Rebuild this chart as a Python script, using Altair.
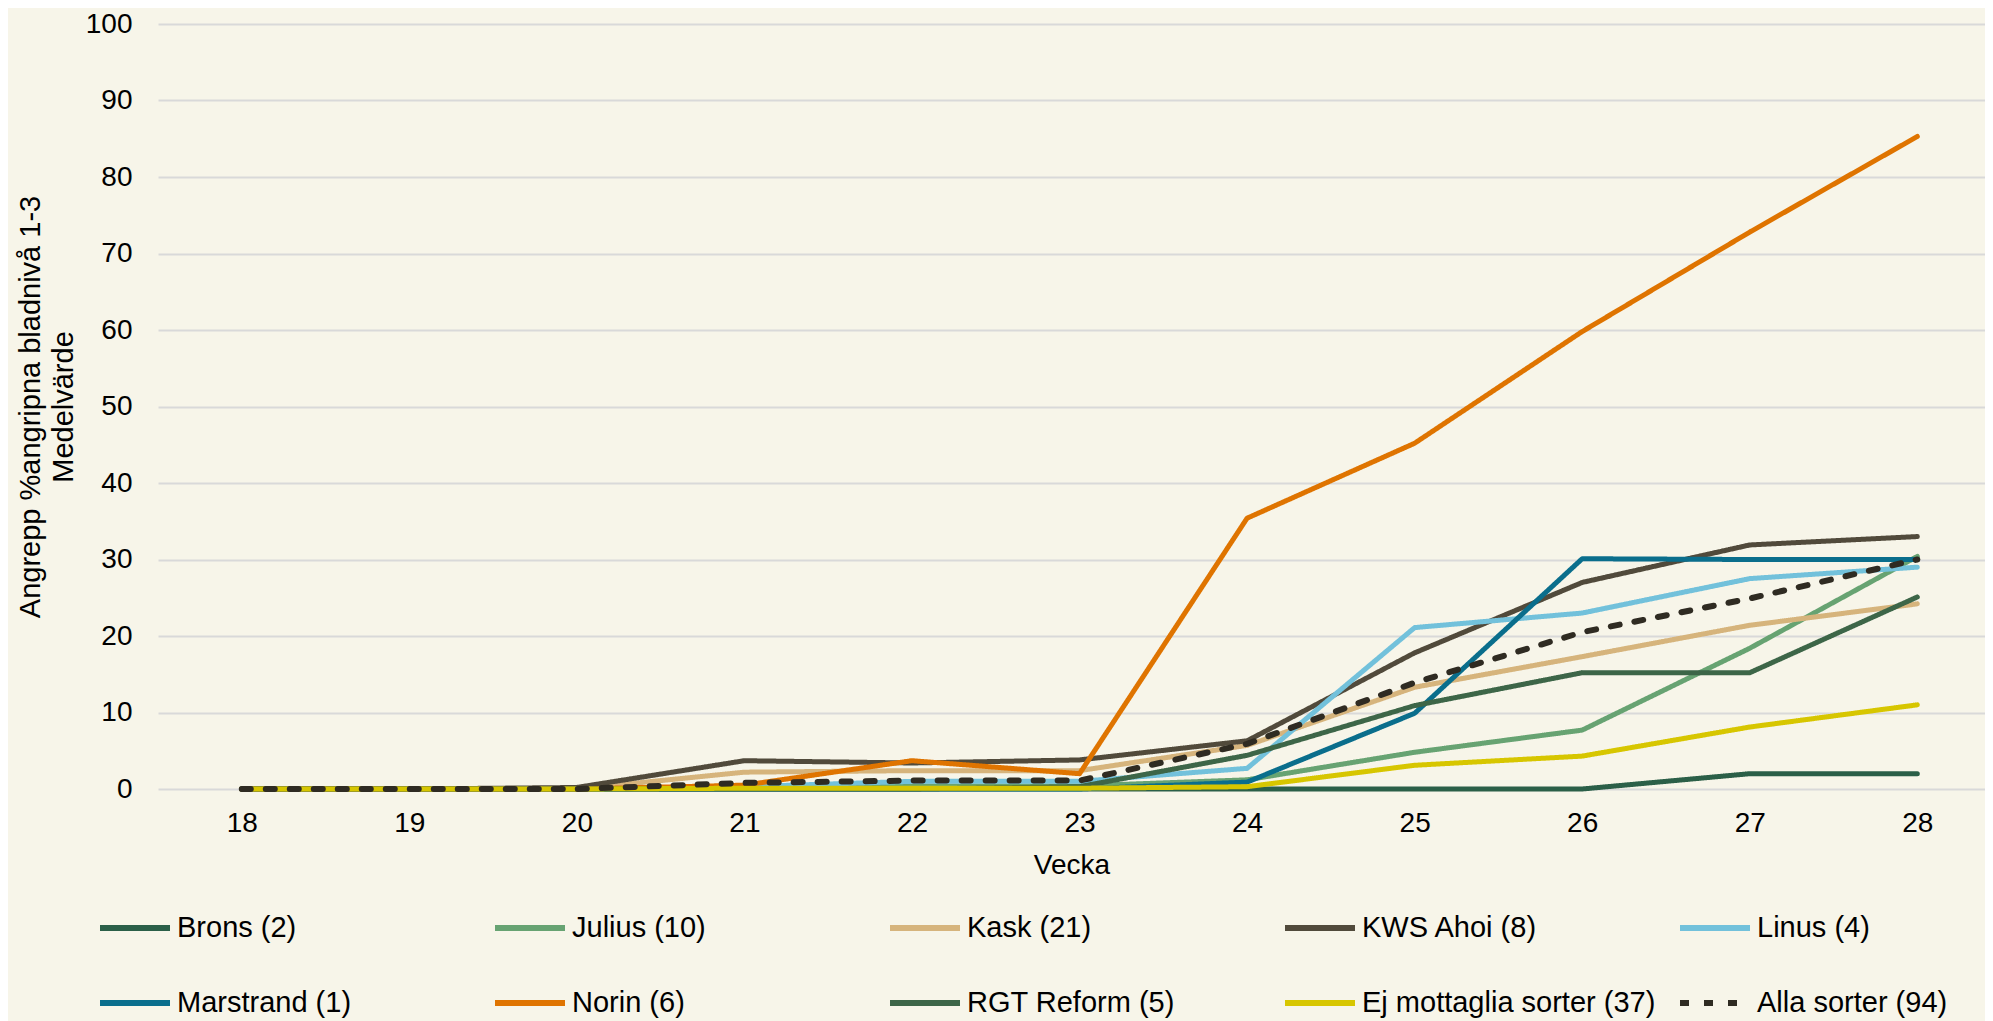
import altair as alt
import pandas as pd

weeks = [18, 19, 20, 21, 22, 23, 24, 25, 26, 27, 28]

sorts = [
    "Brons (2)", "Julius (10)", "Kask (21)", "KWS Ahoi (8)", "Linus (4)",
    "Marstrand (1)", "Norin (6)", "RGT Reform (5)", "Ej mottaglia sorter (37)",
    "Alla sorter (94)",
]

brons = [0, 0, 0, 0, 0, 0, 0, 0, 0, 2.0, 2.0]
julius = [0, 0, 0, 0.3, 0.4, 0.4, 1.2, 4.8, 7.7, 18.4, 30.4]
kask = [0, 0, 0, 2.2, 2.4, 2.4, 5.7, 13.3, 17.3, 21.4, 24.2]
kws_ahoi = [0, 0, 0.2, 3.7, 3.4, 3.8, 6.3, 17.8, 27.0, 31.9, 33.0]
linus = [0, 0, 0, 0.3, 1.0, 1.0, 2.7, 21.1, 23.0, 27.5, 29.0]
marstrand = [0, 0, 0, 0, 0, 0, 0.9, 9.9, 30.1, 30.0, 30.0]
norin = [0, 0, 0, 0.5, 3.7, 2.0, 35.4, 45.2, 59.8, 72.8, 85.3]
rgt_reform = [0, 0, 0, 0, 0, 0.3, 4.4, 10.9, 15.2, 15.2, 25.1]
ej_mottaglia = [0, 0, 0, 0.1, 0.1, 0.1, 0.3, 3.1, 4.3, 8.1, 11.0]
alla_sorter = [0, 0, 0, 0.8, 1.1, 1.1, 5.9, 13.9, 20.5, 24.9, 30.0]

series = [brons, julius, kask, kws_ahoi, linus, marstrand, norin,
          rgt_reform, ej_mottaglia, alla_sorter]

colors = ["#2B5F48", "#67A372", "#D6B47C", "#514A3B", "#72C1DB",
          "#0A6E8C", "#DF7400", "#3D6648", "#D7C600", "#2F2B22"]

rows = []
for name, vals in zip(sorts, series):
    for w, v in zip(weeks, vals):
        rows.append({"sort": name, "vecka": w, "varde": v})
df = pd.DataFrame(rows)

dashes = [[1, 0]] * 9 + [[9, 15]]

FONT = "Liberation Sans"


def make_legend():
    return alt.Legend(
        title=None, orient="none", legendX=-61, legendY=866,
        columns=5, direction="horizontal", gridAlign="all",
        columnPadding=12, rowPadding=22, symbolType="stroke",
        symbolSize=4900, symbolStrokeWidth=6, labelFontSize=29,
        labelColor="#000000", labelOffset=4, labelLimit=500, padding=0,
    )


chart = (
    alt.Chart(df)
    .transform_calculate(w="datum.sort == 'Alla sorter (94)' ? 6 : 5")
    .mark_line(strokeCap="round", strokeJoin="round", clip=False)
    .encode(
        x=alt.X(
            "vecka:Q",
            scale=alt.Scale(domain=[17.5, 28.404], nice=False, zero=False),
            axis=alt.Axis(
                values=weeks, format="d", grid=False, domain=False, ticks=False,
                labelFontSize=28, labelColor="#000000", labelPadding=20,
                title="Vecka", titleFontSize=28, titleFontWeight="normal",
                titleColor="#000000", titlePadding=14,
            ),
        ),
        y=alt.Y(
            "varde:Q",
            scale=alt.Scale(domain=[0, 100], nice=False),
            axis=alt.Axis(
                values=list(range(0, 101, 10)), grid=True, gridColor="#D9D9D9",
                gridWidth=2, domain=False, ticks=False, labelFontSize=28,
                labelColor="#000000", labelPadding=26,
                title=["Angrepp %angripna bladnivå 1-3", "Medelvärde"],
                titleFontSize=29, titleFontWeight="normal", titleColor="#000000",
                titlePadding=7, titleLineHeight=33,
            ),
        ),
        color=alt.Color(
            "sort:N",
            scale=alt.Scale(domain=sorts, range=colors),
            legend=make_legend(),
        ),
        strokeDash=alt.StrokeDash(
            "sort:N",
            scale=alt.Scale(domain=sorts, range=dashes),
            legend=make_legend(),
        ),
        strokeWidth=alt.StrokeWidth("w:Q", scale=None, legend=None),
        order=alt.Order("vecka:Q"),
    )
    .properties(
        width=1827,
        height=765,
        background="#F7F5E9",
        padding={"left": 150, "top": 16, "right": 0, "bottom": 240},
        autosize=alt.AutoSizeParams(type="none"),
    )
    .configure(font=FONT)
    .configure_view(stroke=None)
)

chart.save("out.html", embed_options={"renderer": "svg", "actions": False})
